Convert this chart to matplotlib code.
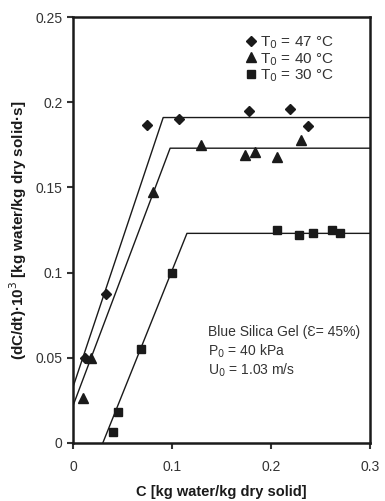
import matplotlib
matplotlib.use("Agg")
import matplotlib.pyplot as plt

plt.rcParams['font.family'] = ['Liberation Sans', 'DejaVu Sans']

# T0 = 47 C
c47 = [0.012, 0.033, 0.075, 0.107, 0.178, 0.219, 0.237]
r47 = [0.050, 0.0876, 0.1865, 0.190, 0.195, 0.196, 0.186]
# T0 = 40 C
c40 = [0.010, 0.018, 0.081, 0.129, 0.174, 0.184, 0.206, 0.230]
r40 = [0.0265, 0.050, 0.147, 0.175, 0.169, 0.171, 0.168, 0.178]
# T0 = 30 C
c30 = [0.040, 0.045, 0.069, 0.100, 0.206, 0.228, 0.242, 0.262, 0.270]
r30 = [0.0065, 0.018, 0.055, 0.100, 0.125, 0.122, 0.1235, 0.125, 0.1235]

# fitted lines (breakpoints)
fit47_x = [0.0, 0.091, 0.30]
fit47_y = [0.033, 0.191, 0.191]
fit40_x = [0.0, 0.098, 0.30]
fit40_y = [0.022, 0.173, 0.173]
fit30_x = [0.030, 0.115, 0.30]
fit30_y = [0.0, 0.123, 0.123]

labels = ['T$_0$ = 47 °C', 'T$_0$ = 40 °C', 'T$_0$ = 30 °C']
notes = ['Blue Silica Gel (Ɛ= 45%)', 'P$_0$ = 40 kPa', 'U$_0$ = 1.03 m/s']

fig = plt.figure(figsize=(3.85, 5.01), dpi=100)
ax = fig.add_axes([0.19, 0.116, 0.771, 0.85])

k = '#1a1a1a'
ax.plot(fit47_x, fit47_y, color=k, lw=1.0)
ax.plot(fit40_x, fit40_y, color=k, lw=1.0)
ax.plot(fit30_x, fit30_y, color=k, lw=1.0)

ax.plot(c47, r47, 'D', color=k, ms=5, label=labels[0])
ax.plot(c40, r40, '^', color=k, ms=6.5, label=labels[1])
ax.plot(c30, r30, 's', color=k, ms=5.5, label=labels[2])

ax.set_xlim(0, 0.3)
ax.set_ylim(0, 0.25)
ax.set_xticks([0, 0.1, 0.2, 0.3])
ax.set_xticklabels(['0', '0.1', '0.2', '0.3'])
ax.set_yticks([0, 0.05, 0.1, 0.15, 0.2, 0.25])
ax.set_yticklabels(['0', '0.05', '0.1', '0.15', '0.2', '0.25'])
ax.tick_params(direction='out', length=4, width=1.5, labelsize=10, colors='#333333')
ax.tick_params(axis='x', pad=8)
for s in ax.spines.values():
    s.set_linewidth(1.8)
    s.set_color(k)

ax.set_xlabel('C [kg water/kg dry solid]', fontsize=10.5, fontweight='bold', labelpad=8, color=k)
ax.set_ylabel('(dC/dt)·10$^3$ [kg water/kg dry solid·s]', fontsize=11, fontweight='bold',
              labelpad=5, color=k)

leg = ax.legend(loc='upper right', bbox_to_anchor=(0.915, 0.985), frameon=False, fontsize=11,
                handlelength=0.5, handletextpad=0.35, labelspacing=0.0, borderpad=0.2)
for t in leg.get_texts():
    t.set_color('#333333')

for i, s in enumerate(notes):
    ax.text(0.136, 0.0653 - i * 0.0113, s, fontsize=10, color='#333333', va='center')

fig.savefig('out.png', dpi=100)
